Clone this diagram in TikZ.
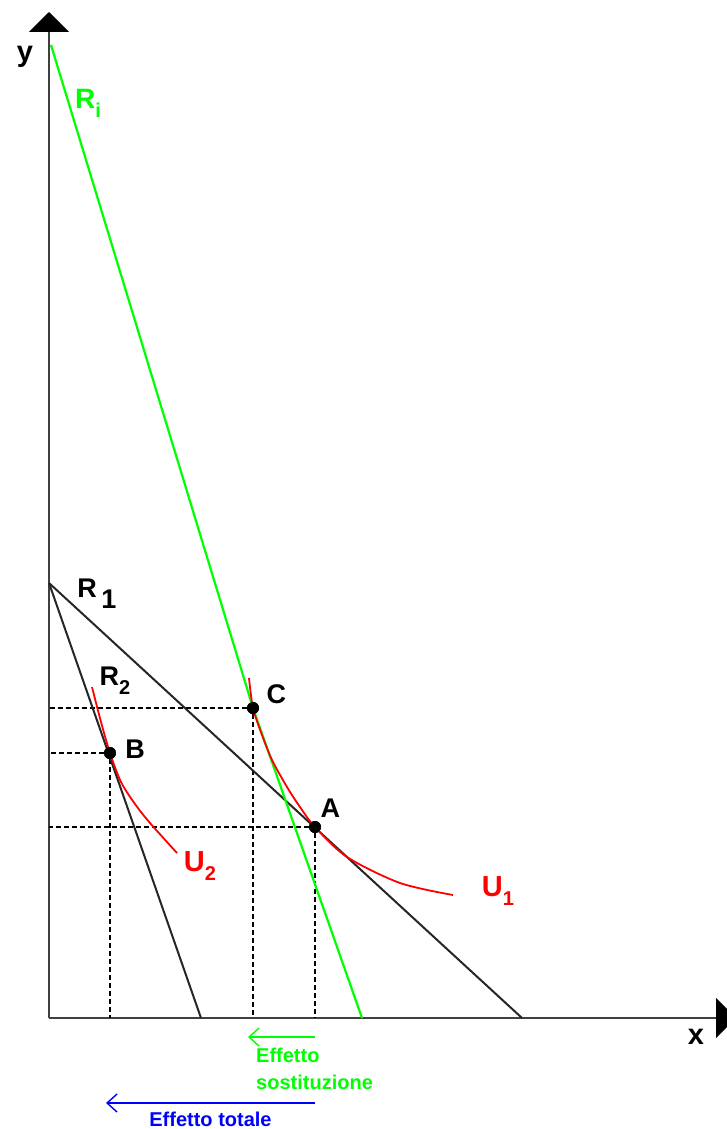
\documentclass[tikz,border=0pt]{standalone}
\usepackage{fontspec}
\setmainfont{Liberation Sans}
\usetikzlibrary{positioning,arrows.meta}
\definecolor{lgreen}{HTML}{00FF00}
\definecolor{lred}  {HTML}{FF0000}
\definecolor{lblue} {HTML}{0000FF}
\definecolor{axgrey}{HTML}{404040}
\newcommand{\lowsub}[1]{\raisebox{-0.32em}{\fontsize{20}{20}\selectfont #1}}
\tikzset{
  ax/.style   ={draw=axgrey, line width=2.2pt,
                -{Triangle[length=20pt,width=40pt,color=black]}},
  bl/.style   ={draw=black!85, line width=2pt},
  bli/.style  ={draw=lgreen, line width=2.2pt},
  uc/.style   ={draw=lred, line width=1.8pt},
  gd/.style   ={draw=black, line width=1.5pt, dash pattern=on 5pt off 3pt},
  pt/.style   ={circle, fill=black, inner sep=0pt, minimum size=12pt},
  lab/.style  ={font=\fontsize{27}{27}\selectfont\bfseries, inner sep=0pt},
  labu/.style ={font=\fontsize{29}{29}\selectfont\bfseries, inner sep=0pt,
                text=lred},
  axlab/.style={font=\fontsize{29}{29}\selectfont\bfseries, inner sep=0pt},
  effg/.style ={draw=lgreen, line width=1.4pt,
                -{Straight Barb[length=10pt,width=18pt]}},
  efft/.style ={draw=lblue, line width=1.4pt,
                -{Straight Barb[length=10pt,width=18pt]}},
  efftxt/.style={font=\fontsize{20}{27}\selectfont\bfseries, inner sep=0pt}
}
\begin{document}
\begin{tikzpicture}[x=1pt, y=-1pt]
\useasboundingbox (0,0) rectangle (727,1129);
% axes
\coordinate (O) at (49,1018);
\coordinate (Y) at (49,12);
\coordinate (X) at (736,1018);
\draw[ax] (O) -- (Y);
\draw[ax] (O) -- (X);
\node[axlab] (ly) at (25,57) {y};
\node[axlab] (lx) at (696,1037) {x};

% budget lines and points
\coordinate (Q)   at (49,583);
\coordinate (R1e) at (522,1018);
\coordinate (R2e) at (201,1018);
\coordinate (Rit) at (51,45);
\coordinate (Rie) at (362,1018);
\node[pt] (A) at (315,827) {};
\node[pt] (B) at (110,753) {};
\node[pt] (C) at (253,708) {};

\draw[gd] (A) -- (A -| O);
\draw[gd] (A) -- (A |- O);
\draw[gd] (B) -- (B -| O);
\draw[gd] (B) -- (B |- O);
\draw[gd] (C) -- (C -| O);
\draw[gd] (C) -- (C |- O);

\draw[bl] (Q) -- (R1e);
\draw[bl] (Q) -- (R2e);
\draw[bli] (Rit) -- (C.center) -- (Rie);

% indifference curves
\draw[uc] plot[smooth] coordinates {(249,678) (253,708) (262,735) (272,760)
  (287,787) (300,807) (315,827) (347,857) (400,883) (453,895)};
\draw[uc] plot[smooth] coordinates {(92,687) (101,722) (110,753) (121,782)
  (135,804) (150,823) (177,853)};

\node[pt] at (A) {};
\node[pt] at (B) {};
\node[pt] at (C) {};

% labels
\node[lab, above right=5pt and 1pt of A] (lA) {A};
\node[lab, right=9pt of B, yshift=4pt] (lB) {B};
\node[lab, above right=0pt and 9pt of C] (lC) {C};
\node[lab, text=lgreen, font=\fontsize{28}{28}\selectfont\bfseries]
  (lRi) at (88,103) {R\lowsub{i}};
\node[lab] (lR1) at (97,594) {R\,\raisebox{-0.4em}{1}};
\node[lab, font=\fontsize{27}{27}\selectfont\bfseries]
  (lR2) at (115,681) {R\lowsub{2}};
\node[labu] (lU1) at (498,891) {U\lowsub{1}};
\node[labu] (lU2) at (200,866) {U\lowsub{2}};

% effects
\coordinate (gS) at (315,1037);
\coordinate (gE) at (248,1037);
\coordinate (tS) at (315,1103);
\coordinate (tE) at (106,1103);
\draw[effg] (gS) -- (gE);
\node[efftxt, align=left, text=lgreen, below right=11pt and 8pt of gE] (es)
  {Effetto\\sostituzione};
\draw[efft] (tS) -- (tE) node[efftxt, text=lblue, midway, below=8pt] (et)
  {Effetto totale};
\end{tikzpicture}
\end{document}
